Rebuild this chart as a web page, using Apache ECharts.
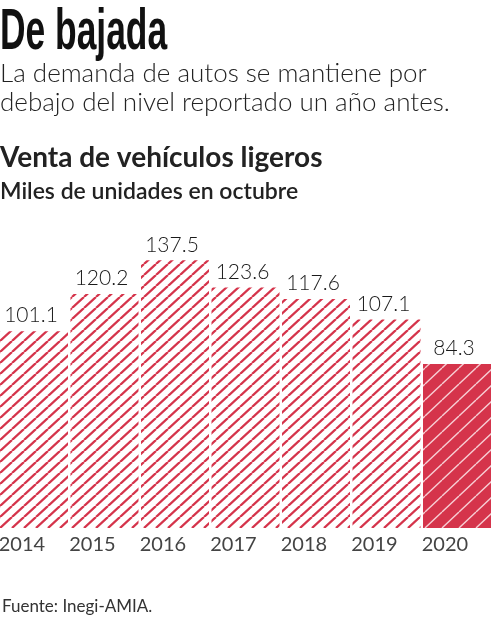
<!DOCTYPE html>
<html>
<head>
<meta charset="utf-8">
<script src="https://cdn.jsdelivr.net/npm/echarts@6/dist/echarts.min.js"></script>
<style>
  html, body { margin: 0; padding: 0; background: #fff; }
  #chart { width: 494px; height: 620px; }
</style>
</head>
<body>
<div id="chart"></div>
<script>
// datos: venta de vehiculos ligeros, miles de unidades en octubre
var years = ['2014', '2015', '2016', '2017', '2018', '2019', '2020'];
var ventas = [101.1, 120.2, 137.5, 123.6, 117.6, 107.1, 84.3];

var ROJO = '#d5344b';
var FONT = 'Lato';

// trama diagonal para las barras
function hatch(bg, fg, w, h, lw) {
  var c = document.createElement('canvas');
  c.width = w;
  c.height = h;
  var ctx = c.getContext('2d');
  ctx.fillStyle = bg;
  ctx.fillRect(0, 0, w, h);
  ctx.strokeStyle = fg;
  ctx.lineWidth = lw;
  ctx.beginPath();
  for (var k = -1; k <= 1; k++) {
    ctx.moveTo(k * w, h);
    ctx.lineTo(k * w + w, 0);
  }
  ctx.stroke();
  return c;
}

var rayado = { image: hatch('#ffffff', ROJO, 12, 11, 2.3), repeat: 'repeat' };
var relleno = { image: hatch(ROJO, '#f7cdd3', 17, 16, 1.4), repeat: 'repeat' };

var chart = echarts.init(document.getElementById('chart'));

var option = {
  backgroundColor: '#ffffff',
  animation: false,
  graphic: [
    {
      type: 'text', left: 0, top: 4, scaleX: 0.61,
      style: { text: 'De bajada', font: 'bold 58px "Liberation Sans"', fill: '#111' }
    },
    {
      type: 'text', left: 0, top: 59,
      style: {
        text: 'La demanda de autos se mantiene por\ndebajo del nivel reportado un año antes.',
        font: '300 26px ' + FONT, lineHeight: 29, fill: '#222'
      }
    },
    {
      type: 'text', left: 0, top: 144,
      style: { text: 'Venta de vehículos ligeros', font: 'bold 28px ' + FONT, fill: '#222' }
    },
    {
      type: 'text', left: 0, top: 180,
      style: { text: 'Miles de unidades en octubre', font: '600 23px ' + FONT, fill: '#222' }
    },
    {
      type: 'text', left: 2, top: 598,
      style: { text: 'Fuente: Inegi-AMIA.', font: '17px ' + FONT, fill: '#333' }
    }
  ],
  grid: { left: -1.25, right: 1.75, top: 236, bottom: 92, outerBoundsMode: 'none' },
  xAxis: [
    {
      type: 'category',
      data: years,
      show: false
    },
    {
      // solo para las etiquetas de los años, alineadas a la izquierda de cada barra
      type: 'value',
      position: 'bottom',
      min: 0,
      max: 7,
      interval: 1,
      axisLine: { show: false },
      axisTick: { show: false },
      splitLine: { show: false },
      axisLabel: {
        showMaxLabel: false,
        align: 'left',
        margin: 7,
        color: '#444',
        fontFamily: FONT,
        fontSize: 20,
        formatter: function (v) { return years[v] || ''; }
      }
    }
  ],
  yAxis: { type: 'value', min: 0, max: 150, show: false },
  series: [{
    type: 'bar',
    xAxisIndex: 0,
    barWidth: 68,
    data: ventas.map(function (v, i) {
      return { value: v, itemStyle: { color: i === ventas.length - 1 ? relleno : rayado } };
    }),
    label: {
      show: true,
      position: 'top',
      distance: 5,
      offset: [-3, 0],
      color: '#1a1a1a',
      fontFamily: FONT,
      fontWeight: 300,
      fontSize: 21
    }
  }]
};

chart.setOption(option);
</script>
</body>
</html>
